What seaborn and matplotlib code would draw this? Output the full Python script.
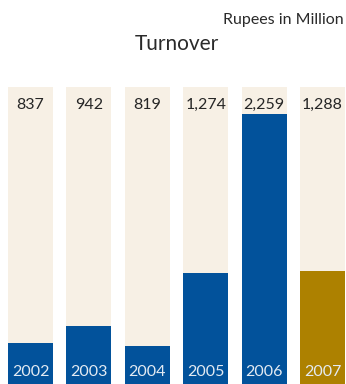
import matplotlib
matplotlib.use("Agg")
import matplotlib.pyplot as plt
import matplotlib.transforms as mtransforms
import seaborn as sns
import pandas as pd

years = ["2002", "2003", "2004", "2005", "2006", "2007"]
turnover = [837, 942, 819, 1274, 2259, 1288]
value_labels = ["837", "942", "819", "1,274", "2,259", "1,288"]
bar_colors = ["#02529b", "#02529b", "#02529b", "#02529b", "#02529b", "#ad8100"]

axis_floor = 585
axis_top = 2425

sns.set_theme(style="white")
plt.rcParams["font.family"] = ["Lato", "DejaVu Sans"]

df = pd.DataFrame({"year": years, "turnover": turnover,
                   "track": [axis_top] * len(years)})

fig = plt.figure(figsize=(3.46, 3.84), dpi=100)
ax = fig.add_axes([0, 0, 1, 297 / 384])

# full-height light tracks behind each bar
sns.barplot(data=df, x="year", y="track", color="#f7f0e5", width=0.77,
            ax=ax, saturation=1, linewidth=0)
# turnover bars
sns.barplot(data=df, x="year", y="turnover", hue="year",
            palette=dict(zip(years, bar_colors)), width=0.77, legend=False,
            ax=ax, saturation=1, linewidth=0)

ax.set_ylim(axis_floor, axis_top)
ax.set_xlim(-0.522, 5.402)
ax.axis("off")

trans = mtransforms.blended_transform_factory(ax.transData, ax.transAxes)
for i, (yr, lab) in enumerate(zip(years, value_labels)):
    ax.text(i, 0.94, lab, ha="center", va="center", fontsize=11.5,
            color="#262626", transform=trans)
    ax.text(i, 0.042, yr, ha="center", va="center", fontsize=11.5,
            color="#e4ebf3", transform=trans)

fig.text(176.5 / 346, 1 - 44 / 384, "Turnover", ha="center", va="center",
         fontsize=15, color="#2a2a2a")
fig.text(344 / 346, 1 - 20 / 384, "Rupees in Million", ha="right",
         va="center", fontsize=11.5, color="#2a2a2a")

fig.savefig("out.png", dpi=100)
